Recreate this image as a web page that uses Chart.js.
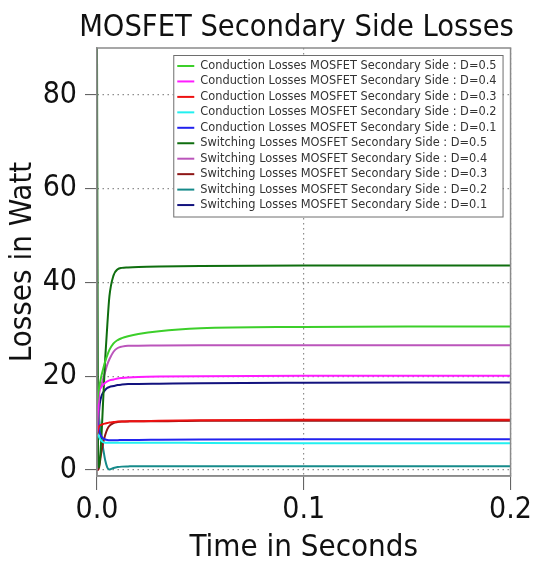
<!DOCTYPE html>
<html>
<head>
<meta charset="utf-8">
<script src="https://cdn.jsdelivr.net/npm/chart.js@4/dist/chart.umd.min.js"></script>
<style>
  html, body { margin: 0; padding: 0; background: #ffffff; }
  #c { display: block; }
</style>
</head>
<body>
<canvas id="c" width="534" height="567"></canvas>
<script>
// Simulation time points (seconds)
const time = [0, 0.0005, 0.001, 0.002, 0.003, 0.004, 0.005, 0.006, 0.008, 0.010, 0.012, 0.015, 0.020, 0.030, 0.050, 0.100, 0.150, 0.200];

// Conduction losses (W) for each duty cycle
const condD05 = [14, 16, 17.5, 19.8, 21.6, 23.2, 24.5, 25.6, 27.0, 27.7, 28.1, 28.5, 29.0, 29.6, 30.2, 30.5, 30.6, 30.6];
const condD04 = [8, 13, 16.5, 17.6, 18.2, 18.6, 18.9, 19.1, 19.3, 19.5, 19.6, 19.7, 19.8, 19.9, 20.0, 20.1, 20.1, 20.1];
const condD03 = [7.5, 8.6, 9.3, 9.6, 9.8, 9.9, 10.0, 10.1, 10.2, 10.3, 10.3, 10.4, 10.4, 10.5, 10.6, 10.7, 10.7, 10.7];
const condD02 = [8, 7.5, 7.0, 6.3, 5.9, 5.8, 5.8, 5.8, 5.8, 5.8, 5.8, 5.8, 5.8, 5.8, 5.75, 5.7, 5.7, 5.7];
const condD01 = [11, 9.5, 8.3, 7.2, 6.7, 6.5, 6.4, 6.35, 6.35, 6.35, 6.4, 6.4, 6.4, 6.45, 6.5, 6.55, 6.55, 6.55];

// Switching losses (W) for each duty cycle
const swD05 = [90, 4, 0.5, 6, 15, 24, 31, 37, 41.5, 42.8, 43.1, 43.2, 43.3, 43.4, 43.5, 43.6, 43.6, 43.6];
const swD04 = [0, 8, 16, 18, 19.5, 21, 22.5, 23.6, 25.2, 26.0, 26.3, 26.5, 26.5, 26.55, 26.6, 26.6, 26.6, 26.6];
const swD03 = [0, 0, 0.5, 3.5, 5.8, 7.5, 8.7, 9.4, 10.0, 10.2, 10.3, 10.35, 10.4, 10.4, 10.5, 10.5, 10.5, 10.5];
const swD02 = [17, 14, 11, 7.5, 4.5, 2, 0.5, 0.1, 0.4, 0.6, 0.7, 0.75, 0.8, 0.8, 0.8, 0.8, 0.8, 0.8];
const swD01 = [0, 7, 12.5, 15.5, 16.5, 17.1, 17.5, 17.7, 17.9, 18.1, 18.2, 18.3, 18.35, 18.4, 18.5, 18.6, 18.65, 18.65];

const seriesLabels = [
  'Conduction Losses MOSFET Secondary Side : D=0.5',
  'Conduction Losses MOSFET Secondary Side : D=0.4',
  'Conduction Losses MOSFET Secondary Side : D=0.3',
  'Conduction Losses MOSFET Secondary Side : D=0.2',
  'Conduction Losses MOSFET Secondary Side : D=0.1',
  'Switching Losses MOSFET Secondary Side : D=0.5',
  'Switching Losses MOSFET Secondary Side : D=0.4',
  'Switching Losses MOSFET Secondary Side : D=0.3',
  'Switching Losses MOSFET Secondary Side : D=0.2',
  'Switching Losses MOSFET Secondary Side : D=0.1'
];
const seriesValues = [condD05, condD04, condD03, condD02, condD01, swD05, swD04, swD03, swD02, swD01];
const seriesColors = ['#3ccf2a', '#ff1cff', '#ee1111', '#22f0f0', '#2222ee',
                      '#0f6e0f', '#bb55bb', '#8e1616', '#168a8a', '#12127e'];

const xTicks = [0, 0.1, 0.2];
const yTicks = [0, 20, 40, 60, 80];

const chartTitle = 'MOSFET Secondary Side Losses';
const xTitle = 'Time in Seconds';
const yTitle = 'Losses in Watt';

const BIG_FONT = "'DejaVu Sans Condensed', 'DejaVu Sans', sans-serif";
const SMALL_FONT = "'DejaVu Sans', sans-serif";

const datasets = seriesValues.map((vals, i) => ({
  label: seriesLabels[i],
  data: time.map((t, k) => ({ x: t, y: vals[k] })),
  borderColor: seriesColors[i],
  backgroundColor: seriesColors[i],
  borderWidth: 2,
  pointRadius: 0,
  fill: false,
  cubicInterpolationMode: 'monotone'
}));

// Title, frame and boxed legend drawn over the plot
const decorations = {
  id: 'decorations',
  afterDraw(chart) {
    const { ctx, chartArea: a } = chart;
    ctx.save();
    ctx.setLineDash([]);
    // frame around plot area
    ctx.strokeStyle = '#8a8a8a';
    ctx.lineWidth = 1.5;
    ctx.strokeRect(a.left, a.top, a.right - a.left, a.bottom - a.top);

    // title
    ctx.fillStyle = '#111111';
    ctx.font = "30.5px " + BIG_FONT;
    ctx.textAlign = 'center';
    ctx.textBaseline = 'alphabetic';
    ctx.fillText(chartTitle, 296.5, 36);

    // legend
    ctx.font = "11.4px " + SMALL_FONT;
    let tw = 0;
    chart.data.datasets.forEach(ds => { tw = Math.max(tw, ctx.measureText(ds.label).width); });
    const rowH = 15.45;
    const boxW = 27 + tw + 6;
    const boxH = rowH * chart.data.datasets.length + 7;
    const bx = a.right - 8 - boxW;
    const by = a.top + 7;
    ctx.fillStyle = '#ffffff';
    ctx.fillRect(bx, by, boxW, boxH);
    ctx.strokeStyle = '#6e6e6e';
    ctx.lineWidth = 1;
    ctx.strokeRect(bx + 0.5, by + 0.5, boxW, boxH);
    ctx.textAlign = 'left';
    ctx.textBaseline = 'middle';
    chart.data.datasets.forEach((ds, i) => {
      const y = by + 11 + i * rowH;
      ctx.strokeStyle = ds.borderColor;
      ctx.lineWidth = 2;
      ctx.beginPath();
      ctx.moveTo(bx + 4, y);
      ctx.lineTo(bx + 21, y);
      ctx.stroke();
      ctx.fillStyle = '#333333';
      ctx.fillText(ds.label, bx + 27, y);
    });
    ctx.restore();
  }
};

const gridStyle = {
  color: '#8e8e8e',
  lineWidth: 1.2,
  tickColor: '#555555',
  tickBorderDash: [],
  tickWidth: 1
};

new Chart(document.getElementById('c'), {
  type: 'line',
  data: { datasets },
  plugins: [decorations],
  options: {
    responsive: false,
    animation: false,
    layout: { padding: { top: 48, right: 23, left: 0, bottom: 0 } },
    plugins: {
      legend: { display: false },
      title: { display: false },
      tooltip: { enabled: false }
    },
    scales: {
      x: {
        type: 'linear',
        min: 0,
        max: 0.2,
        afterBuildTicks: s => { s.ticks = xTicks.map(v => ({ value: v })); },
        afterFit: s => { s.height = 91; },
        ticks: {
          color: '#111111',
          font: { family: BIG_FONT, size: 30 },
          padding: 2,
          maxRotation: 0,
          callback: v => Number(v).toFixed(1)
        },
        grid: Object.assign({ tickLength: 14 }, gridStyle),
        border: { display: true, color: '#8a8a8a', width: 1.5, dash: [1.5, 3.5] },
        title: {
          display: true,
          text: xTitle,
          color: '#111111',
          font: { family: BIG_FONT, size: 31 },
          padding: { top: 0, bottom: 0 }
        }
      },
      y: {
        type: 'linear',
        min: -1.3,
        max: 90,
        afterBuildTicks: s => { s.ticks = yTicks.map(v => ({ value: v })); },
        afterFit: s => { s.width = 97; },
        ticks: {
          color: '#111111',
          font: { family: BIG_FONT, size: 30 },
          padding: 8
        },
        grid: Object.assign({ tickLength: 12 }, gridStyle),
        border: { display: true, color: '#8a8a8a', width: 1.5, dash: [1.5, 3.5] },
        title: {
          display: true,
          text: yTitle,
          color: '#111111',
          font: { family: BIG_FONT, size: 31 },
          padding: { top: 4, bottom: 0 }
        }
      }
    }
  }
});
</script>
</body>
</html>
